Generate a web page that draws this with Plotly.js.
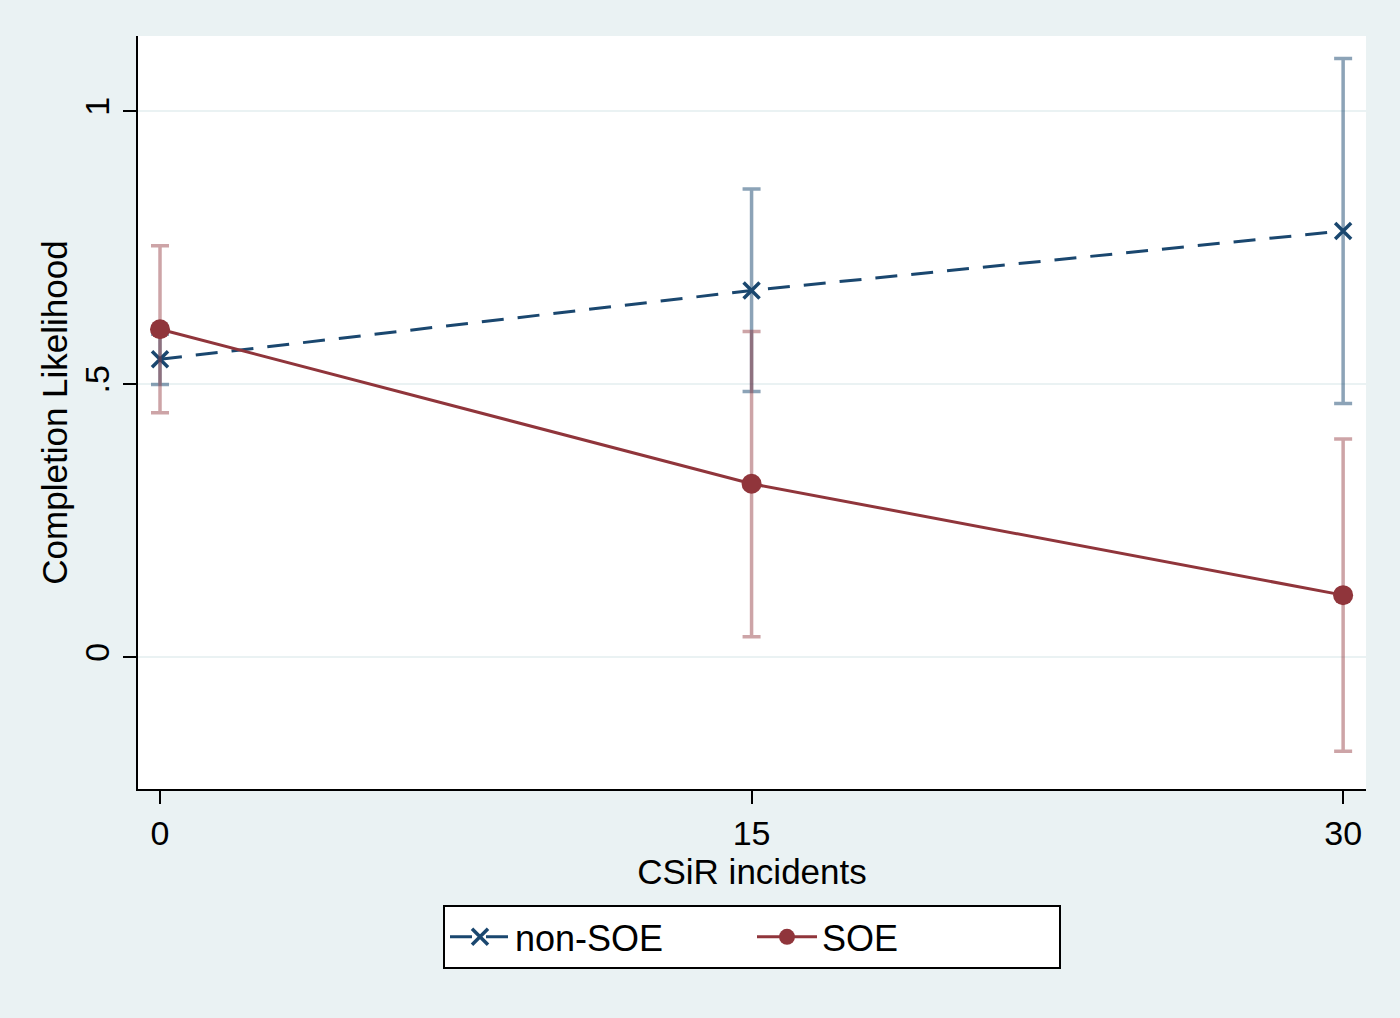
<!DOCTYPE html>
<html>
<head>
<meta charset="utf-8">
<script src="https://cdn.plot.ly/plotly-3.0.1.min.js"></script>
<style>html,body{margin:0;padding:0;background:#EAF2F3;}#chart{width:1400px;height:1018px;}</style>
</head>
<body>
<div id="chart"></div>
<script>
const incidents = [0, 15, 30];
const nonSOE = [0.546, 0.672, 0.781];
const nonSOE_lo = [0.500, 0.487, 0.465];
const nonSOE_hi = [0.592, 0.858, 1.097];
const SOE = [0.601, 0.318, 0.114];
const SOE_lo = [0.448, 0.038, -0.172];
const SOE_hi = [0.754, 0.597, 0.400];
const xTicks = [0, 15, 30];
const xTickText = ['0', '15', '30'];
const yTicks = [0, 0.5, 1];
const yTickText = ['0', '.5', '1'];

const navy = '#1A476F', maroon = '#90353B';
const font = 'Liberation Sans, Arial, sans-serif';

function diff(a, b) { return a.map((v, i) => v - b[i]); }

const traces = [
  {
    x: incidents, y: nonSOE, name: 'non-SOE', type: 'scatter', mode: 'lines+markers',
    line: {color: navy, width: 3, dash: '22px,14px'},
    marker: {symbol: 'x-thin-open', size: 16, color: navy, line: {color: navy, width: 3.5}},
    error_y: {type: 'data', symmetric: false, array: diff(nonSOE_hi, nonSOE), arrayminus: diff(nonSOE, nonSOE_lo),
              color: 'rgba(26,71,111,0.5)', thickness: 3.5, width: 9}
  },
  {
    x: incidents, y: SOE, name: 'SOE', type: 'scatter', mode: 'lines+markers',
    line: {color: maroon, width: 3},
    marker: {symbol: 'circle', size: 20, color: maroon},
    error_y: {type: 'data', symmetric: false, array: diff(SOE_hi, SOE), arrayminus: diff(SOE, SOE_lo),
              color: 'rgba(144,53,59,0.45)', thickness: 3.5, width: 9}
  }
];

const layout = {
  width: 1400, height: 1018,
  paper_bgcolor: '#EAF2F3', plot_bgcolor: '#FFFFFF',
  margin: {l: 138, r: 34, t: 36, b: 229},
  font: {family: font, color: '#000'},
  showlegend: true,
  xaxis: {
    range: [-0.558, 30.58], tickvals: xTicks, ticktext: xTickText,
    showgrid: false, zeroline: false, showline: true, linecolor: '#000', linewidth: 2,
    ticks: 'outside', ticklen: 13, tickwidth: 2, tickcolor: '#000',
    tickfont: {size: 34, family: font},
    title: {text: 'CSiR incidents', font: {size: 35, family: font}, standoff: 1}
  },
  yaxis: {
    range: [-0.241, 1.138], tickvals: yTicks, ticktext: yTickText, tickangle: -90,
    showgrid: true, gridcolor: '#EAF2F3', gridwidth: 2, zeroline: false,
    showline: true, linecolor: '#000', linewidth: 2,
    ticks: 'outside', ticklen: 13, tickwidth: 2, tickcolor: '#000',
    tickfont: {size: 34, family: font},
    title: {text: 'Completion Likelihood', font: {size: 35, family: font}, standoff: 0}
  },
  legend: {
    orientation: 'h', x: 0.5, xanchor: 'center', y: -0.154, yanchor: 'top',
    bgcolor: '#FFFFFF', bordercolor: '#000', borderwidth: 2,
    font: {size: 36, family: font}, itemwidth: 60, entrywidth: 232, traceorder: 'normal'
  }
};

Plotly.newPlot('chart', traces, layout, {displayModeBar: false, staticPlot: true});
</script>
</body>
</html>
